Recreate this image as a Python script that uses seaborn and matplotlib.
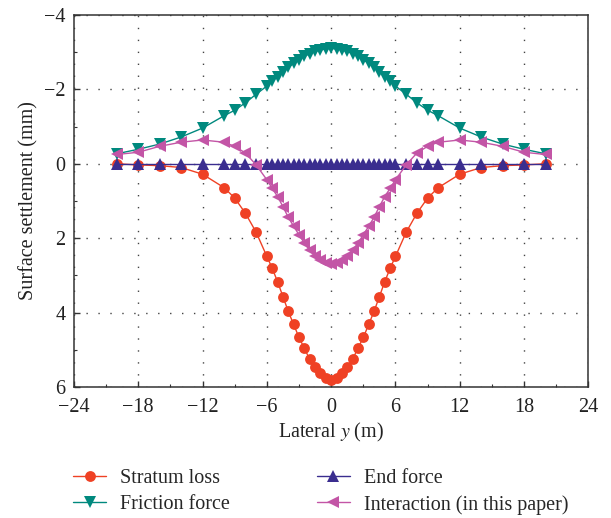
import matplotlib
matplotlib.use("Agg")
import matplotlib.pyplot as plt
import seaborn as sns
import numpy as np
from matplotlib.ticker import MultipleLocator

# ---- data ----
lateral_y = [-20, -18, -16, -14, -12, -10, -9, -8, -7, -6, -5.5, -5, -4.5, -4, -3.5, -3,
             -2.5, -2, -1.5, -1, -0.5, 0, 0.5, 1, 1.5, 2, 2.5, 3, 3.5, 4, 4.5, 5, 5.5, 6,
             7, 8, 9, 10, 12, 14, 16, 18, 20]

stratum_loss = [0.0, 0.03, 0.05, 0.10, 0.28, 0.64, 0.92, 1.33, 1.84, 2.49, 2.81, 3.17, 3.57,
                3.97, 4.32, 4.67, 4.96, 5.26, 5.46, 5.63, 5.75, 5.80, 5.75, 5.63, 5.46, 5.26,
                4.96, 4.67, 4.32, 3.97, 3.57, 3.17, 2.81, 2.49, 1.84, 1.33, 0.92, 0.64, 0.28,
                0.10, 0.05, 0.03, 0.0]

friction_force = [-0.27, -0.39, -0.53, -0.72, -0.96, -1.29, -1.44, -1.64, -1.87, -2.09, -2.23,
                  -2.34, -2.46, -2.59, -2.70, -2.80, -2.89, -2.96, -3.02, -3.06, -3.09, -3.10,
                  -3.09, -3.06, -3.02, -2.96, -2.89, -2.80, -2.70, -2.59, -2.46, -2.34, -2.23,
                  -2.09, -1.87, -1.64, -1.44, -1.29, -0.96, -0.72, -0.53, -0.39, -0.27]

end_force = [0.0] * 43

interaction = [-0.25, -0.31, -0.47, -0.58, -0.64, -0.58, -0.47, -0.29, 0.03, 0.43, 0.66, 0.88,
               1.15, 1.44, 1.68, 1.91, 2.13, 2.33, 2.48, 2.60, 2.67, 2.70, 2.67, 2.60, 2.48,
               2.33, 2.13, 1.91, 1.68, 1.44, 1.15, 0.88, 0.66, 0.43, 0.03, -0.29, -0.47, -0.58,
               -0.64, -0.58, -0.47, -0.31, -0.25]

x_ticks = [-24, -18, -12, -6, 0, 6, 12, 18, 24]
y_ticks = [-4, -2, 0, 2, 4, 6]

# ---- style ----
sns.set_style("white")
plt.rcParams["font.family"] = ["Liberation Serif", "DejaVu Serif"]
plt.rcParams["mathtext.fontset"] = "stix"
plt.rcParams["axes.unicode_minus"] = True

FS = 14.5

fig = plt.figure(figsize=(6.11, 5.18), dpi=100)
ax = fig.add_axes([0.121, 0.253, 0.842, 0.718])

series = [
    ("Stratum loss", stratum_loss, "#EF4124", "o", 7.8),
    ("Friction force", friction_force, "#00897E", "v", 8.2),
    ("End force", end_force, "#3A2D8F", "^", 8.2),
    ("Interaction (in this paper)", interaction, "#C355A6", "<", 8.2),
]
for name, vals, col, mk, ms in series:
    sns.lineplot(x=lateral_y, y=vals, ax=ax, color=col, marker=mk, markersize=ms,
                 markeredgewidth=0, linewidth=1.0, label=name, sort=False)

ax.set_xlim(-24, 24)
ax.set_ylim(6, -4)
ax.set_xticks(x_ticks)
ax.set_yticks(y_ticks)
ax.xaxis.set_minor_locator(MultipleLocator(3))
ax.yaxis.set_minor_locator(MultipleLocator(1))
ax.tick_params(which="major", direction="in", length=4, width=1, labelsize=FS,
               bottom=True, left=True, top=False, right=False, colors="#333333",
               labelcolor="#222222")
ax.tick_params(axis="x", which="major", pad=8)
ax.tick_params(axis="y", which="major", pad=6)
ax.tick_params(which="minor", direction="in", length=2.5, width=0.8,
               bottom=True, left=True, top=False, right=False, colors="#333333")

ax.grid(True, which="major", color="#444444", linestyle=(0, (1, 7.6)), linewidth=1.0)
ax.set_axisbelow(True)
for sp in ax.spines.values():
    sp.set_color("#333333")
    sp.set_linewidth(1.1)

ax.set_xlabel("Lateral $\\mathit{y}$ (m)", fontsize=FS, color="#222222", labelpad=3)
ax.set_ylabel("Surface settlement (mm)", fontsize=FS, color="#222222", labelpad=4)

handles, labels = ax.get_legend_handles_labels()
ax.get_legend().remove()
fig.legend(handles, labels, loc="center", bbox_to_anchor=(0.525, 0.051), ncol=2,
           frameon=False, fontsize=FS, handlelength=1.65, handletextpad=0.7,
           columnspacing=4.3, labelspacing=0.35, borderaxespad=0)

fig.savefig("out.png", dpi=100)
